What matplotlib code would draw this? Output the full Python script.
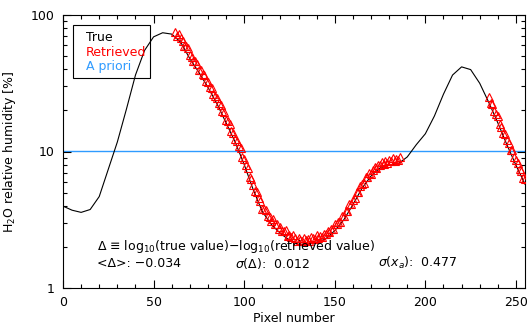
import numpy as np
import matplotlib
matplotlib.use("Agg")
import matplotlib.pyplot as plt
from matplotlib.patches import Rectangle
from matplotlib.ticker import MultipleLocator, LogLocator, NullFormatter

# true profile, log10(RH %) every 5 pixels
pix_true = np.arange(0, 256, 5)
log_true = [0.60, 0.57, 0.554, 0.575, 0.67, 0.87, 1.07, 1.31, 1.56, 1.74,
            1.84, 1.87, 1.86, 1.80, 1.68, 1.58, 1.47, 1.35, 1.21, 1.07,
            0.905, 0.72, 0.56, 0.465, 0.40, 0.35, 0.32, 0.32, 0.335, 0.36,
            0.42, 0.50, 0.61, 0.73, 0.82, 0.88, 0.90, 0.91, 0.96, 1.05,
            1.13, 1.26, 1.42, 1.56, 1.62, 1.60, 1.50, 1.36, 1.21, 1.05,
            0.90, 0.76]

# retrieved values, log10(RH %), one per pixel where the retrieval converged
pix_retr_a = np.arange(62, 187)
log_retr_a = [1.876, 1.848, 1.860, 1.830, 1.812, 1.771, 1.771, 1.756, 1.707, 1.694,
              1.662, 1.665, 1.638, 1.596, 1.599, 1.568, 1.564, 1.517, 1.507, 1.475,
              1.468, 1.418, 1.409, 1.392, 1.353, 1.338, 1.294, 1.287, 1.233, 1.220,
              1.201, 1.152, 1.134, 1.088, 1.080, 1.037, 1.022, 0.962, 0.944, 0.898,
              0.876, 0.815, 0.797, 0.754, 0.713, 0.704, 0.656, 0.634, 0.579, 0.578,
              0.568, 0.530, 0.519, 0.488, 0.502, 0.469, 0.467, 0.430, 0.444, 0.418,
              0.416, 0.422, 0.382, 0.389, 0.370, 0.385, 0.363, 0.344, 0.363, 0.354,
              0.343, 0.369, 0.349, 0.360, 0.343, 0.371, 0.365, 0.357, 0.386, 0.368,
              0.383, 0.371, 0.398, 0.392, 0.418, 0.408, 0.435, 0.435, 0.468, 0.467,
              0.487, 0.487, 0.528, 0.530, 0.563, 0.566, 0.616, 0.614, 0.647, 0.663,
              0.703, 0.703, 0.746, 0.764, 0.772, 0.813, 0.814, 0.844, 0.838, 0.862,
              0.884, 0.878, 0.902, 0.903, 0.925, 0.911, 0.931, 0.915, 0.940, 0.934,
              0.949, 0.933, 0.945, 0.935, 0.958]
pix_retr_b = np.arange(235, 256)
log_retr_b = [1.402, 1.358, 1.347, 1.294, 1.278, 1.259, 1.204, 1.182, 1.135, 1.126,
              1.081, 1.061, 1.012, 1.010, 0.959, 0.935, 0.917, 0.869, 0.856, 0.808,
              0.798]

apriori_rh = 10.1
stats_labels = ["<Δ>: −0.034", r"$\sigma$(Δ):  0.012", r"$\sigma$($x_a$):  0.477"]

plt.rcParams["font.family"] = "DejaVu Sans"
plt.rcParams["font.size"] = 9

fig = plt.figure(figsize=(5.31, 3.28), dpi=100)
ax = fig.add_axes([63 / 531, 1 - 288 / 328, 462 / 531, 273 / 328])

ax.axhline(apriori_rh, color="#2f9bff", linewidth=1.0, zorder=1)
ax.plot(pix_true, 10 ** np.array(log_true), color="black", linewidth=0.8, zorder=2)
for px, lv in [(pix_retr_a, log_retr_a), (pix_retr_b, log_retr_b)]:
    ax.plot(px, 10 ** np.array(lv), linestyle="none", marker="^", markersize=6,
            markerfacecolor="none", markeredgecolor="red", markeredgewidth=0.8, zorder=3)

ax.set_yscale("log")
ax.set_xlim(0, 255)
ax.set_ylim(1, 100)
ax.set_yticks([1, 10, 100])
ax.set_yticklabels(["1", "10", "100"])
ax.yaxis.set_minor_locator(LogLocator(base=10, subs=np.arange(2, 10)))
ax.yaxis.set_minor_formatter(NullFormatter())
ax.xaxis.set_major_locator(MultipleLocator(50))
ax.xaxis.set_minor_locator(MultipleLocator(10))
ax.tick_params(which="both", direction="in", top=True, right=True, width=0.8)
ax.tick_params(which="major", length=6, pad=6)
ax.tick_params(which="minor", length=3)
for sp in ax.spines.values():
    sp.set_linewidth(0.8)

ax.set_xlabel("Pixel number", labelpad=2)
ax.set_ylabel("H$_2$O relative humidity [%]", labelpad=9)

# legend box
ax.add_patch(Rectangle((0.0216, 0.769), 0.1664, 0.194, transform=ax.transAxes,
                       fill=False, edgecolor="black", linewidth=0.8, zorder=4))
for txt, col, yy in [("True", "black", 0.919), ("Retrieved", "red", 0.864),
                     ("A priori", "#2f9bff", 0.810)]:
    ax.text(0.0498, yy, txt, color=col, transform=ax.transAxes, va="center", ha="left")

ax.text(0.0736, 0.151, "Δ ≡ log$_{10}$(true value)$-$log$_{10}$(retrieved value)",
        transform=ax.transAxes, va="center", ha="left")
for txt, xx in zip(stats_labels, [0.0736, 0.372, 0.682]):
    ax.text(xx, 0.090, txt, transform=ax.transAxes, va="center", ha="left")

fig.savefig("out.png", dpi=100)
